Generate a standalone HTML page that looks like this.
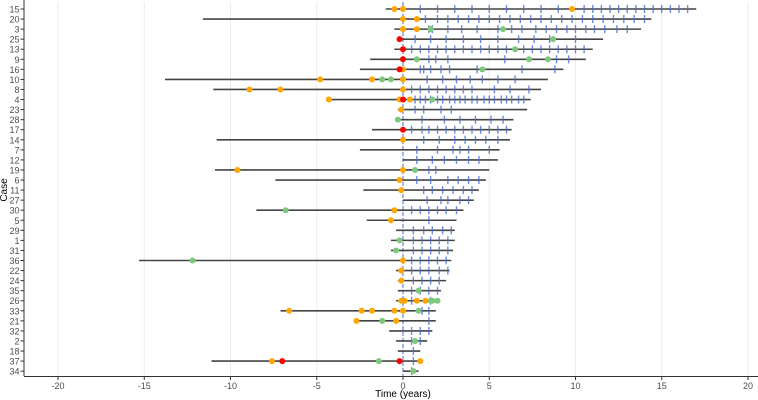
<!DOCTYPE html>
<html><head><meta charset="utf-8"><style>
body{margin:0;background:#fff;}
svg{display:block;font-family:"Liberation Sans",sans-serif;}
</style></head><body>
<svg id="chart" width="758" height="400" xmlns="http://www.w3.org/2000/svg"></svg>
<script>
const cases = ["15","20","3","25","13","9","16","10","8","4","23","28","17","14","7","12","19","6","11","27","30","5","29","1","31","36","22","24","35","26","33","21","32","2","18","37","34"];
const starts = [-1,-11.6,-0.5,-0.3,-0.5,-1.9,-2.5,-13.8,-11,-4.3,-0.3,-0.3,-1.8,-10.8,-2.5,0,-10.9,-7.4,-2.3,0,-8.5,-2.1,-0.4,-0.7,-0.7,-15.3,-0.4,-0.3,-0.3,-0.4,-7.1,-2.7,-0.8,-0.4,-0.3,-11.1,0];
const ends = [17,14.4,13.8,11.6,11.0,10.6,9.3,8.4,8.0,7.4,7.2,6.4,6.3,6.2,5.6,5.5,5.0,4.8,4.4,4.1,3.5,3.1,3.0,3.0,2.9,2.8,2.7,2.5,2.2,2.0,1.9,1.9,1.7,1.4,1.0,1.0,0.9];
const orangeEvents = [[-0.5,0,9.8],[0,0.8],[0,0.8],[],[],[],[0],[-4.8,-1.8,0],[-8.9,-7.1,0],[-4.3,-0.2,0.4],[-0.1],[],[],[0],[],[],[-9.6,0],[-0.2],[-0.1],[],[-0.5],[-0.7],[],[],[],[0],[-0.1],[-0.1],[],[-0.1,0.1,0.8,1.3],[-6.6,-2.4,-1.8,-0.5,0],[-2.7,-0.4],[],[],[],[-7.6,1.0],[]];
const greenEvents = [[],[],[1.6,5.8],[8.7],[6.5],[0.8,7.3,8.4],[4.6],[-1.2,-0.7,0],[],[1.7],[],[-0.3],[],[],[],[],[0.7],[],[],[],[-6.8],[],[],[-0.2],[-0.4],[-12.2],[],[],[0.9],[1.6,1.7,2.0],[0.9],[-1.2],[],[0.7],[],[-1.4],[0.6]];
const redEvents = [[],[],[],[-0.2],[0],[0],[-0.2],[],[],[0],[],[],[0],[],[],[],[],[],[],[],[],[],[],[],[],[],[],[],[],[],[],[],[],[],[],[-7.0,-0.2],[]];
const ticks = [
[1,2,3,4,5,6,7,8,9,10.5,11,11.5,12,12.5,13,13.5,14,14.5,15,15.5,16,16.5],
[1.3,2,2.6,3.2,3.8,4.4,5,5.6,6.2,6.8,7.4,8,8.6,9.2,9.8,10.4,11,11.6,12.2,12.8,13.4,14],
[1.5,1.7,2.6,3.4,4.3,5.5,6.3,6.9,7.7,8.3,8.9,9.5,10,10.6,11.1,11.7,12.4,13],
[0.7,1.6,2.5,3.5,4.5,5.5,6.7,7.6,8.5,10],
[0.5,1,1.5,2,2.5,3,3.5,4,4.5,5,5.5,6,7,7.5,8,8.5,9,9.5,10,10.5],
[1.5,1.9,2.6,5.9,8.9,9.6],
[1,1.2,1.6,2.2,2.7,4.3,6.9,8.8],
[1.4,2.3,3.1,3.9,4.6,5.5,6.5],
[0.5,1,1.5,2,2.5,3,3.5,4,5.3,6.2,7.3],
[0.7,1,1.3,1.6,2,2.3,2.7,3,3.3,3.6,4,4.3,4.7,5,5.3,5.7,6,6.3,6.7,7],
[0.7,1.2,2.2,2.8],
[1.1,2.4,3.3,4.2,5.1,5.8],
[0.5,1.1,1.5,2,2.5,3,3.5,4,4.5,5,5.5,6],
[1.2,2.1,3,3.6,4.2,4.8,5.5],
[0.8,2,2.9,3.3,3.8,5],
[0.8,1.7,2.4,3.1,3.8,4.4],
[1.5,1.9],
[0.8,1.6,2.6,3.2,3.8,4.4],
[1.2,1.7,2.3,2.9,3.5,4],
[1.4,2.2,2.6,3.3,3.8],
[0.5,1,1.5,2,2.5,3.1],
[1.5],
[0.6,1.2,1.7,2.3,2.8],
[0.6,1.1,1.6,2.1,2.6],
[0.6,1.1,1.6,2.1,2.6],
[0.5,1,1.5,2,2.5],
[0.5,1,1.5,2.1,2.6],
[0.6,1.1,1.6,2.1],
[0.5,1,1.5,2],
[0.5,1.6],
[1.1,1.5],
[1.5],
[0.5,1,1.5],
[0.5,1],
[0.6],
[0.6],
[0.5]
];
const xTicks = [-20,-15,-10,-5,0,5,10,15,20];

const svg = document.getElementById('chart');
const NS = 'http://www.w3.org/2000/svg';
const x = v => 403 + v * 17.25;
const y = i => 9 + i * 10.06;
function mk(tag, attrs, parent){const e=document.createElementNS(NS,tag);for(const k in attrs)e.setAttribute(k,attrs[k]);(parent||svg).appendChild(e);return e;}

const grid = mk('g',{});


xTicks.forEach(t=>{
  const l=mk('line',{x1:x(t),x2:x(t),y1:2,y2:376,stroke:'#ebebeb','stroke-width':1},grid);
  
  
});
const zl = mk('line',{x1:x(0),x2:x(0),y1:2,y2:376,stroke:'#4a6fd0','stroke-width':1,'stroke-dasharray':'4,2'});



cases.forEach((c,i)=>{
  const g=mk('g',{});
  
  
  const bar=mk('line',{x1:x(starts[i]),x2:x(ends[i]),y1:y(i),y2:y(i),stroke:'#444','stroke-width':1.6},g);
  
  
  ticks[i].forEach(t=>{
    const m=mk('line',{x1:x(t),x2:x(t),y1:y(i)-4,y2:y(i)+4,stroke:'#4a6fd0','stroke-width':1.4,'stroke-opacity':0.8},g);
    
    
  });
  [[greenEvents,'#7dc87d','green-event'],[orangeEvents,'#ffa500','orange-event'],[redEvents,'#ff0000','red-event']].forEach(([arr,col,nm])=>{
    arr[i].forEach(t=>{
      const p=mk('circle',{cx:x(t),cy:y(i),r:3,fill:col},g);
      
      
    });
  });
  const lab=mk('text',{x:19.5,y:y(i)+3.5,'text-anchor':'end','font-size':9,fill:'#4d4d4d'});
  lab.textContent=c;
  
  
  mk('line',{x1:20.5,x2:24,y1:y(i),y2:y(i),stroke:'#333','stroke-width':1});
});

const ax=mk('g',{});


mk('line',{x1:24,x2:24,y1:0,y2:376,stroke:'#333','stroke-width':1},ax);
mk('line',{x1:24,x2:758,y1:376.5,y2:376.5,stroke:'#333','stroke-width':1},ax);
xTicks.forEach(t=>{
  mk('line',{x1:x(t),x2:x(t),y1:376,y2:380,stroke:'#333','stroke-width':1},ax);
  const tl=mk('text',{x:x(t),y:389,'text-anchor':'middle','font-size':9,fill:'#4d4d4d'},ax);
  tl.textContent=t;
  
  
});
const xt=mk('text',{x:403,y:397,'text-anchor':'middle','font-size':10,fill:'#000'});
xt.textContent='Time (years)';


const yt=mk('text',{x:7,y:190,'text-anchor':'middle','font-size':10,fill:'#000',transform:'rotate(-90 7 190)'});
yt.textContent='Case';


</script>
</body></html>
